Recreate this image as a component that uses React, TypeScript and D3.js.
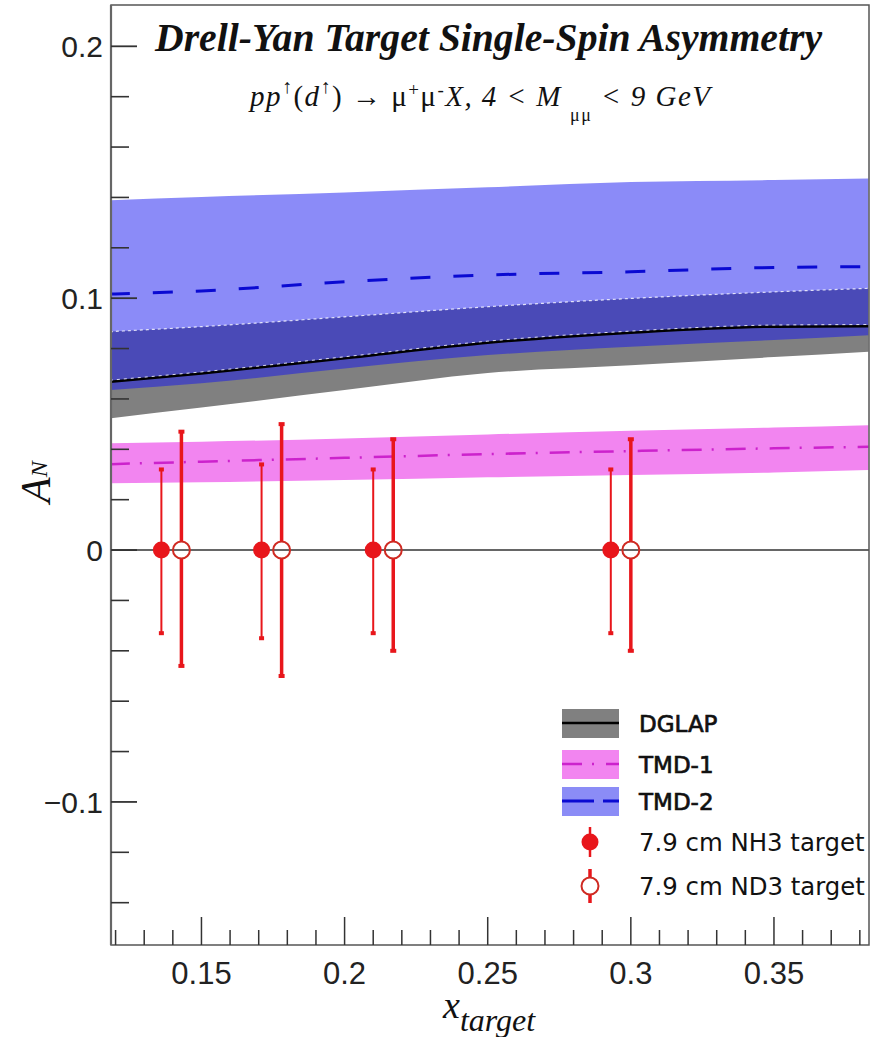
import React from "react";
import * as d3 from "d3";

const xGrid = [0.118, 0.15, 0.2, 0.25, 0.3, 0.35, 0.383];

const dglapCentral = [0.0668, 0.0701, 0.0761, 0.0823, 0.0863, 0.0887, 0.0889];
const dglapUpper = [0.0867, 0.0887, 0.0926, 0.0966, 0.0999, 0.1025, 0.1039];
const dglapLower = [0.0523, 0.0566, 0.0635, 0.0703, 0.0734, 0.0766, 0.0787];

const tmd1Central = [0.0341, 0.0351, 0.0366, 0.0381, 0.0393, 0.0404, 0.041];
const tmd1Upper = [0.0424, 0.043, 0.0443, 0.0459, 0.0474, 0.0487, 0.0496];
const tmd1Lower = [0.0265, 0.0269, 0.0278, 0.0289, 0.0298, 0.0308, 0.0318];

const tmd2Central = [0.1016, 0.1029, 0.1065, 0.1092, 0.1105, 0.1122, 0.1125];
const tmd2Upper = [0.1389, 0.1402, 0.142, 0.144, 0.1461, 0.1469, 0.1475];
const tmd2Lower = [0.0635, 0.0662, 0.0721, 0.0774, 0.0807, 0.0834, 0.0853];

// projected statistical points (all at A_N = 0)
const nh3X = [0.136, 0.171, 0.21, 0.293];
const nh3ErrUp = [0.032, 0.034, 0.032, 0.032];
const nh3ErrDown = [0.033, 0.035, 0.033, 0.033];
const nd3X = [0.143, 0.178, 0.217, 0.3];
const nd3ErrUp = [0.047, 0.05, 0.044, 0.044];
const nd3ErrDown = [0.046, 0.05, 0.04, 0.04];

const xTicks = [0.15, 0.2, 0.25, 0.3, 0.35];
const xTickLabels = ["0.15", "0.2", "0.25", "0.3", "0.35"];
const yTicks = [-0.1, 0, 0.1, 0.2];
const yTickLabels = ["\u22120.1", "0", "0.1", "0.2"];

const legendLabels = ["DGLAP", "TMD-1", "TMD-2", "7.9 cm NH3 target", "7.9 cm ND3 target"];

const W = 873;
const H = 1037;
const m = { left: 111, right: 869, top: 5, bottom: 945 };

const RED = "#e8161b";
const SANS = "'Liberation Sans', Arial, sans-serif";
const SERIF = "'Liberation Serif', 'Times New Roman', serif";
const LEG = "'DejaVu Sans', sans-serif";

export default function App() {
  const x = d3.scaleLinear().domain([0.1184, 0.3832]).range([m.left, m.right]);
  const y = d3.scaleLinear().domain([-0.1568, 0.2164]).range([m.bottom, m.top]);

  const band = (lo: number[]) =>
    d3
      .area<number>()
      .x((_, i) => x(xGrid[i]))
      .y0((_, i) => y(lo[i]))
      .y1((d) => y(d))
      .curve(d3.curveMonotoneX);
  const line = d3
    .line<number>()
    .x((_, i) => x(xGrid[i]))
    .y((d) => y(d))
    .curve(d3.curveMonotoneX);

  const xMinor = d3.range(12, 39).map((v) => v / 100).filter((v) => !xTicks.some((t) => Math.abs(t - v) < 1e-6));
  const yMinor = d3.range(-7, 11).map((v) => v / 50).filter((v) => !yTicks.some((t) => Math.abs(t - v) < 1e-6));

  const r = 8.5;
  const y0 = y(0);

  // legend rows
  const lx = 562;
  const lw = 57;
  const rows = [723, 764, 801, 842, 886];

  return (
    <svg width={W} height={H} style={{ position: "absolute", left: 0, top: 0, background: "#fff" }}>
      <rect width={W} height={H} fill="#fff" />
      <defs>
        <clipPath id="plotclip">
          <rect x={m.left} y={m.top} width={m.right - m.left} height={m.bottom - m.top} />
        </clipPath>
      </defs>

      <g clipPath="url(#plotclip)">
        {/* bands */}
        <path d={band(dglapLower)(dglapUpper) ?? ""} fill="#808080" />
        <path d={band(tmd2Lower)(tmd2Upper) ?? ""} fill="#1313f0" fillOpacity={0.49} />
        <path d={band(tmd1Lower)(tmd1Upper) ?? ""} fill="#f285f0" />

        {/* band edge artefact */}
        <path d={line(dglapUpper) ?? ""} fill="none" stroke="#fff" strokeWidth={1.2} strokeDasharray="3,3" opacity={0.8} />

        {/* central curves */}
        <path d={line(dglapCentral) ?? ""} fill="none" stroke="#000" strokeWidth={2.5} />
        <path d={line(dglapCentral) ?? ""} fill="none" stroke="#fff" strokeWidth={1} strokeDasharray="3,4" transform="translate(0,-1.6)" opacity={0.8} />
        <path d={line(tmd2Central) ?? ""} fill="none" stroke="#0a0ad2" strokeWidth={3} strokeDasharray="20,23" />
        <path d={line(tmd1Central) ?? ""} fill="none" stroke="#cc22cc" strokeWidth={2.5} strokeDasharray="20,10,2,12" />

        {/* zero line */}
        <line x1={m.left} x2={m.right} y1={y0} y2={y0} stroke="#333" strokeWidth={1.5} />

        {/* NH3 points */}
        {nh3X.map((v, i) => (
          <g key={"nh3" + i}>
            <line x1={x(v)} x2={x(v)} y1={y(nh3ErrUp[i])} y2={y(-nh3ErrDown[i])} stroke={RED} strokeWidth={2} />
            <rect x={x(v) - 2.5} y={y(nh3ErrUp[i]) - 2} width={5} height={4} fill={RED} />
            <rect x={x(v) - 2.5} y={y(-nh3ErrDown[i]) - 2} width={5} height={4} fill={RED} />
            <circle cx={x(v)} cy={y0} r={r} fill={RED} />
          </g>
        ))}

        {/* ND3 points */}
        {nd3X.map((v, i) => (
          <g key={"nd3" + i}>
            <line x1={x(v)} x2={x(v)} y1={y(nd3ErrUp[i])} y2={y0 - r} stroke={RED} strokeWidth={3.5} />
            <line x1={x(v)} x2={x(v)} y1={y0 + r} y2={y(-nd3ErrDown[i])} stroke={RED} strokeWidth={3.5} />
            <rect x={x(v) - 3} y={y(nd3ErrUp[i]) - 2} width={6} height={4} fill={RED} />
            <rect x={x(v) - 3} y={y(-nd3ErrDown[i]) - 2} width={6} height={4} fill={RED} />
            <circle cx={x(v)} cy={y0} r={r} fill="none" stroke="#cf2a22" strokeWidth={2} />
          </g>
        ))}
      </g>

      {/* frame */}
      <rect x={m.left} y={m.top} width={m.right - m.left} height={m.bottom - m.top} fill="none" stroke="#555" strokeWidth={1.5} />
      <line x1={m.left} x2={m.left} y1={m.top} y2={m.bottom} stroke="#666" strokeWidth={2.2} />

      {/* y ticks */}
      {yTicks.map((t) => (
        <line key={"ym" + t} x1={m.left} x2={m.left + 26} y1={y(t)} y2={y(t)} stroke="#333" strokeWidth={1.8} />
      ))}
      {yMinor.map((t) => (
        <line key={"yn" + t} x1={m.left} x2={m.left + 18} y1={y(t)} y2={y(t)} stroke="#333" strokeWidth={1.6} />
      ))}
      {yTicks.map((t, i) => (
        <text key={"yl" + t} x={103} y={y(t)} dy="0.36em" textAnchor="end" fontFamily={SANS} fontSize={30} fill="#222">
          {yTickLabels[i]}
        </text>
      ))}

      {/* x ticks */}
      {xTicks.map((t) => (
        <line key={"xm" + t} x1={x(t)} x2={x(t)} y1={m.bottom} y2={m.bottom - 28} stroke="#333" strokeWidth={1.5} />
      ))}
      {xMinor.map((t) => (
        <line key={"xn" + t} x1={x(t)} x2={x(t)} y1={m.bottom} y2={m.bottom - 15} stroke="#333" strokeWidth={1.5} />
      ))}
      {xTicks.map((t, i) => (
        <text key={"xl" + t} x={x(t)} y={984} textAnchor="middle" fontFamily={SANS} fontSize={31} fill="#222">
          {xTickLabels[i]}
        </text>
      ))}

      {/* axis titles */}
      <text x={443} y={1018} fontFamily={SERIF} fontStyle="italic" fill="#111">
        <tspan fontSize={38}>x</tspan>
        <tspan fontSize={32} dy={13}>target</tspan>
      </text>
      <text transform="translate(50,503) rotate(-90)" fontFamily={SERIF} fontStyle="italic" fill="#111">
        <tspan fontSize={42}>A</tspan>
        <tspan fontSize={24} dy={-3}>N</tspan>
      </text>

      {/* title */}
      <text x={155} y={51} fontFamily={SERIF} fontStyle="italic" fontWeight="bold" fontSize={39} textLength={667} lengthAdjust="spacingAndGlyphs" fill="#111">
        Drell-Yan Target Single-Spin Asymmetry
      </text>
      <text x={250} y={106} fontFamily={SERIF} fontSize={29} fill="#111" textLength={460} lengthAdjust="spacing">
        <tspan fontStyle="italic">pp</tspan>
        <tspan fontSize={20} dy={-13}>{"\u2191"}</tspan>
        <tspan dy={13}>(</tspan>
        <tspan fontStyle="italic">d</tspan>
        <tspan fontSize={20} dy={-13}>{"\u2191"}</tspan>
        <tspan dy={13}>{") \u2192 \u03bc"}</tspan>
        <tspan fontSize={19} dy={-10}>+</tspan>
        <tspan dy={10}>{"\u03bc"}</tspan>
        <tspan fontSize={19} dy={-10}>-</tspan>
        <tspan dy={10} fontStyle="italic">X, 4 &lt; M</tspan>
        <tspan fontSize={18} dx={8} dy={15}>{"\u03bc\u03bc"}</tspan>
        <tspan dy={-15} fontStyle="italic">{" < 9 GeV"}</tspan>
      </text>

      {/* legend */}
      {[0, 1, 2].map((i) => (
        <rect key={"lb" + i} x={lx} y={rows[i] - 14} width={lw} height={29} fill={i === 0 ? "#808080" : i === 1 ? "#f285f0" : "#8b8cf6"} />
      ))}
      <line x1={lx} x2={lx + lw} y1={rows[0]} y2={rows[0]} stroke="#000" strokeWidth={2.5} />
      <line x1={lx} x2={lx + lw} y1={rows[1]} y2={rows[1]} stroke="#cc22cc" strokeWidth={2.5} strokeDasharray="20,10,2,12" />
      <line x1={lx} x2={lx + lw} y1={rows[2]} y2={rows[2]} stroke="#0a0ad2" strokeWidth={3} strokeDasharray="32,9" />

      <line x1={590} x2={590} y1={rows[3] - 15} y2={rows[3] + 15} stroke={RED} strokeWidth={2.5} />
      <circle cx={590} cy={rows[3]} r={r} fill={RED} />
      <line x1={590} x2={590} y1={rows[4] - 17} y2={rows[4] - r} stroke={RED} strokeWidth={3.5} />
      <line x1={590} x2={590} y1={rows[4] + r} y2={rows[4] + 17} stroke={RED} strokeWidth={3.5} />
      <circle cx={590} cy={rows[4]} r={r} fill="none" stroke="#cf2a22" strokeWidth={2} />

      {legendLabels.map((s, i) => (
        <text key={"lt" + i} x={639} y={rows[i] + 9} fontFamily={LEG} fontSize={i < 3 ? 23 : 24.4} stroke={i < 3 ? "#111" : "none"} strokeWidth={0.7} fill="#111">
          {s}
        </text>
      ))}
    </svg>
  );
}
